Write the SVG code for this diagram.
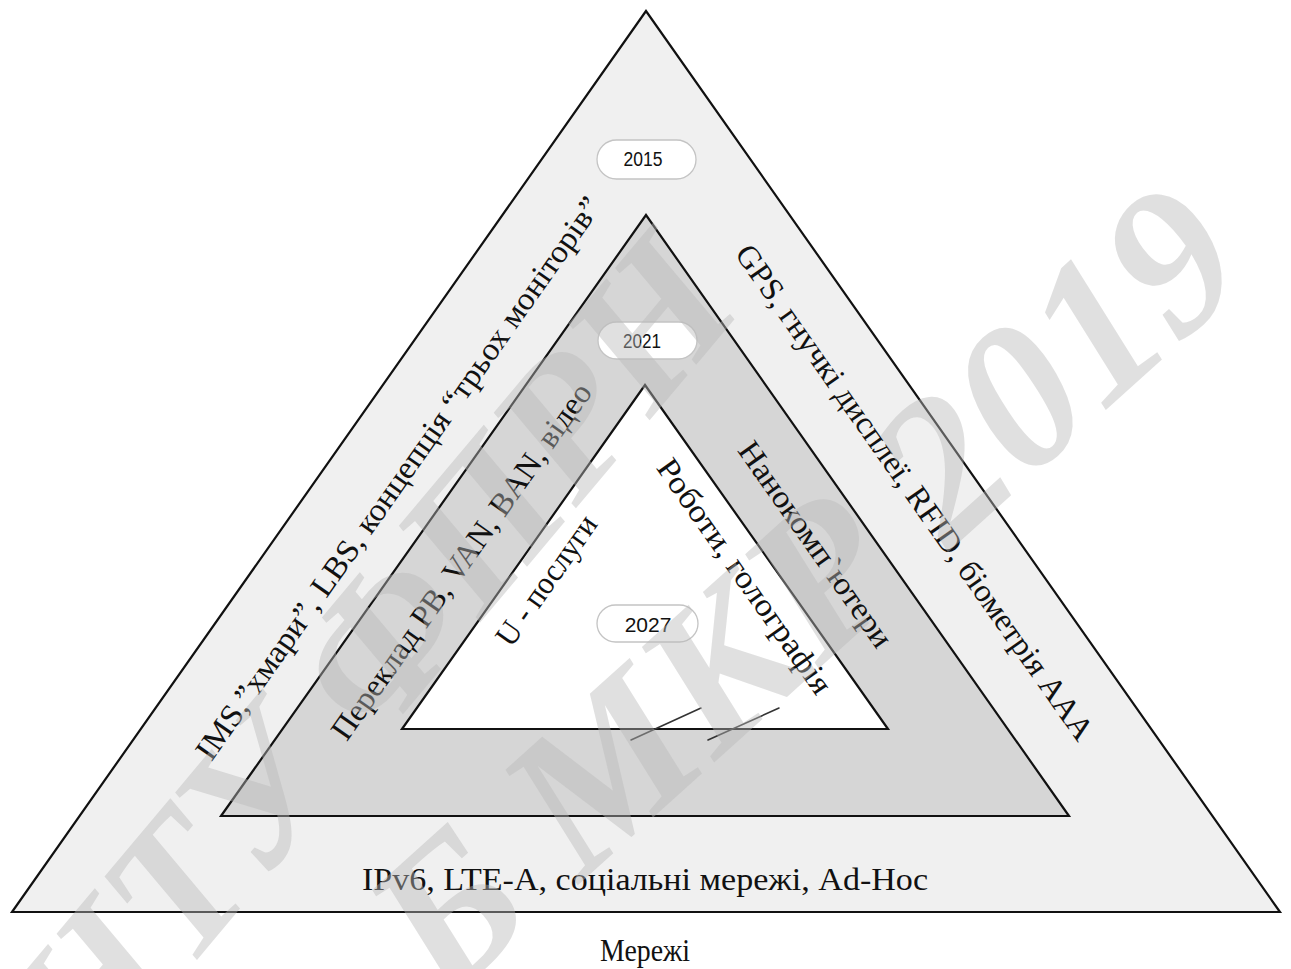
<svg xmlns="http://www.w3.org/2000/svg" width="1291" height="969" viewBox="0 0 1291 969">
  <style>
    .tri { stroke: #111; stroke-width: 2.2; stroke-linejoin: miter; }
    .pill { fill: #fff; stroke: #c4c4c4; stroke-width: 1.3; }
    .year { font-family: "Liberation Sans Narrow", "Liberation Sans", Arial, sans-serif; font-size: 20px; fill: #111; text-anchor: middle; }
    .year-wide { font-family: "Liberation Sans", Arial, sans-serif; font-size: 21px; fill: #111; text-anchor: middle; }
    .lbl { font-family: "Liberation Serif", "Times New Roman", serif; font-size: 32px; fill: #111; text-anchor: middle; }
    .mark { font-family: "Liberation Serif", "Times New Roman", serif; font-weight: bold; font-style: italic; fill: #b8b8b8; fill-opacity: 0.44; }
  </style>

  <rect width="1291" height="969" fill="#fff"/>

  <!-- nested layers -->
  <g id="layer-2015">
    <polygon class="tri" points="646,11 12,912 1280,912" fill="#f0f0f0"/>
  </g>
  <g id="layer-2021">
    <polygon class="tri" points="646,215 221,816 1069,816" fill="#d6d6d6"/>
  </g>
  <g id="layer-2027">
    <polygon class="tri" points="645,385 402,729 888,729" fill="#fff"/>
  </g>

  <!-- tick marks on the inner base -->
  <g id="connectors" stroke="#333" stroke-width="1.6" stroke-linecap="round">
    <line x1="631" y1="740" x2="701" y2="708"/>
    <line x1="708" y1="740" x2="779" y2="708"/>
  </g>

  <!-- year badges -->
  <g id="year-2015">
    <rect class="pill" x="597" y="140" width="99" height="39" rx="19.5"/>
    <text class="year" x="643" y="166" textLength="39" lengthAdjust="spacingAndGlyphs">2015</text>
  </g>
  <g id="year-2021">
    <rect class="pill" x="598" y="322" width="99" height="37" rx="18.5"/>
    <text class="year" x="642" y="348" textLength="38" lengthAdjust="spacingAndGlyphs">2021</text>
  </g>
  <g id="year-2027">
    <rect class="pill" x="597" y="605" width="101" height="37" rx="18.5"/>
    <text class="year-wide" x="648" y="632">2027</text>
  </g>

  <!-- band captions -->
  <g id="captions">
    <text class="lbl" transform="translate(398,478) rotate(-54.87)" y="11" textLength="680" lengthAdjust="spacingAndGlyphs">IMS,”хмари”, LBS, концепція “трьох моніторів”</text>
    <text class="lbl" transform="translate(461,561) rotate(-54.87)" y="11" textLength="428" lengthAdjust="spacingAndGlyphs">Переклад РВ, VAN, BAN, відео</text>
    <text class="lbl" transform="translate(546,580) rotate(-54.87)" y="11" textLength="152" lengthAdjust="spacingAndGlyphs">U - послуги</text>
    <text class="lbl" transform="translate(915,492) rotate(54.87)" y="11" textLength="598" lengthAdjust="spacingAndGlyphs">GPS, гнучкі дисплеї, RFID, біометрія AAA</text>
    <text class="lbl" transform="translate(816,544) rotate(54.87)" y="11" textLength="244" lengthAdjust="spacingAndGlyphs">Нанокомп`ютери</text>
    <text class="lbl" transform="translate(745,576) rotate(54.87)" y="11" textLength="280" lengthAdjust="spacingAndGlyphs">Роботи, голографія</text>
    <text class="lbl" x="645" y="890" font-size="33" textLength="566" lengthAdjust="spacingAndGlyphs">IPv6, LTE-A, соціальні мережі, Ad-Hoc</text>
    <text class="lbl" x="645" y="961" font-size="28" textLength="90" lengthAdjust="spacingAndGlyphs">Мережі</text>
  </g>

  <!-- overlay stamp -->
  <g id="stamp">
    <text class="mark" font-size="190" transform="translate(92,1085) rotate(-50)">НТУ ФПРН</text>
    <text class="mark" font-size="205" transform="translate(445,1005) rotate(-42)">Б МКР 2019</text>
  </g>
</svg>
